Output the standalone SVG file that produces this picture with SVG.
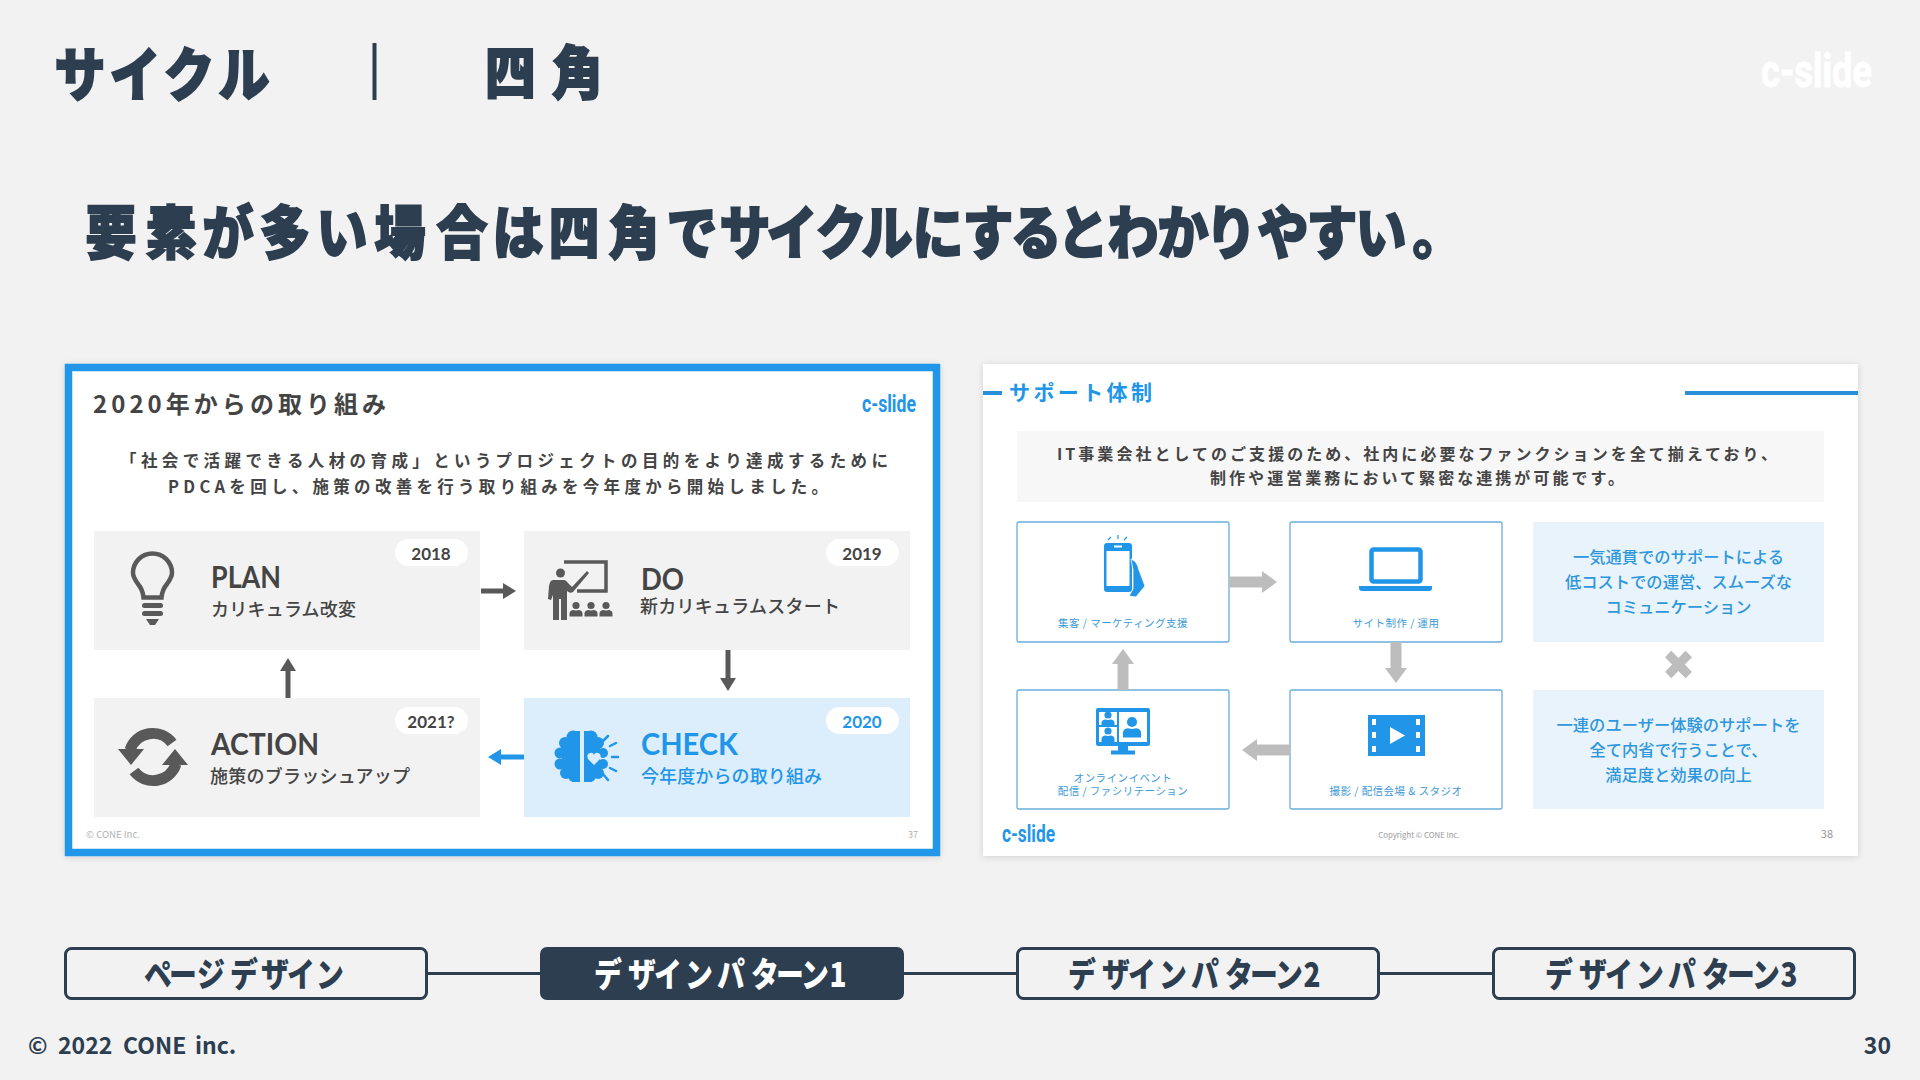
<svg xmlns="http://www.w3.org/2000/svg" xmlns:xlink="http://www.w3.org/1999/xlink" width="1920" height="1080" viewBox="0 0 1920 1080">
<style>
text{font-family:"Noto Sans CJK JP","Noto Sans",sans-serif;}
.hd{font-weight:900;fill:#2c3e50;stroke:#2c3e50;stroke-width:1.800;text-anchor:middle;}
.tab{font-size:34px;font-weight:900;fill:#2c3e50;text-anchor:middle;}
.tabbox{fill:#f2f2f2;stroke:#2c3e50;stroke-width:3;}
.foot{font-size:23px;font-weight:700;fill:#2c3e50;}
.lat{font-family:Lato,"Liberation Sans",sans-serif;font-weight:700;}
.logo{font-family:Roboto,"Liberation Sans",sans-serif;font-weight:700;}
.card{fill:#f2f2f2;}
.pill{fill:#fff;}
.yr{font-family:Lato,sans-serif;font-size:17px;font-weight:700;fill:#444;text-anchor:middle;}
.ttl{font-size:31px;fill:#444;}
.sub{font-size:18px;font-weight:500;fill:#444;}
.para{font-size:16.500px;font-weight:700;fill:#444;}
.ic{fill:#595959;}
.bl{fill:#2196e8;}
.wbox{fill:#fff;stroke:#6aaedb;stroke-width:1.300;}
.cap{font-size:10.500px;fill:#3d9ad8;text-anchor:middle;letter-spacing:.45px;}
.note{fill:#e8f3fb;}
.nt{font-size:16.300px;font-weight:500;fill:#2f97dc;text-anchor:middle;}
.p2{font-size:16px;font-weight:700;fill:#444;}
</style>
<defs>
<filter id="sh" x="-3%" y="-3%" width="106%" height="106%"><feDropShadow dx="0" dy="1" stdDeviation="3" flood-color="#000" flood-opacity="0.14"/></filter>
<marker id="hd1" markerUnits="userSpaceOnUse" markerWidth="14" markerHeight="16" refX="0" refY="8" orient="auto"><path d="M0 0L13 8L0 16Z" fill="#595959"/></marker>
<marker id="hd2" markerUnits="userSpaceOnUse" markerWidth="14" markerHeight="16" refX="0" refY="8" orient="auto"><path d="M0 0L13 8L0 16Z" fill="#2196e8"/></marker>
<marker id="hd3" markerUnits="userSpaceOnUse" markerWidth="16" markerHeight="24" refX="0" refY="12" orient="auto"><path d="M0 1L15 12L0 23Z" fill="#bdbdbd"/></marker>
<g id="usr"><circle cx="0" cy="-5" r="3.600"/><path d="M-6.500 6V3Q-6.500 0 -3 -.5L0 0L3 -.5Q6.500 0 6.500 3V6Z"/></g>
</defs>

<rect width="1920" height="1080" fill="#f2f2f2"/>

<g id="header">
<text class="hd" transform="scale(.88 1)" x="90.900 153.400 214.800 277.300" y="96" font-size="58">サイクル</text>
<rect x="372.500" y="43" width="4" height="57" fill="#2c3e50"/>
<text class="hd" transform="scale(.88 1)" x="580 656" y="94" font-size="58">四角</text>
<text class="logo" x="1761" y="87" font-size="46" fill="#fff" stroke="#fff" stroke-width=".8" textLength="111" lengthAdjust="spacingAndGlyphs">c-slide</text>
</g>
<text class="hd" transform="scale(.88 1)" x="126.100 194.300 259.100 323.900 388.600 454.500 525 588.600 652.300 720.500 786.400 846.600 900 955.700 1008 1065.900 1122.700 1177.300 1230.700 1287.500 1344.300 1398.900 1457.900 1513.600 1569.300 1634" y="254" font-size="58">要素が多い場合は四角でサイクルにするとわかりやすい。</text>

<g id="slide-37">
<rect x="68.500" y="367.500" width="868" height="485" fill="#fff" stroke="#2196e8" stroke-width="7.500" filter="url(#sh)"/>
<text x="93" y="413" font-size="24" font-weight="700" fill="#444" textLength="293">2020年からの取り組み</text>
<text class="logo" x="862" y="412" font-size="23" fill="#2196e8" textLength="54" lengthAdjust="spacingAndGlyphs">c-slide</text>
<text class="para" x="120" y="467" textLength="768">「社会で活躍できる人材の育成」というプロジェクトの目的をより達成するために</text>
<text class="para" x="168" y="493" textLength="660">PDCAを回し、施策の改善を行う取り組みを今年度から開始しました。</text>
<text x="86" y="838" font-size="9.600" fill="#b0b0b0">© CONE Inc.</text>
<text x="918" y="838" font-size="9" fill="#b0b0b0" text-anchor="end">37</text>
</g>

<g id="node-plan">
<rect class="card" x="94" y="531" width="386" height="119"/>
<rect class="pill" x="395" y="539" width="73" height="27" rx="13.500"/>
<text class="yr" x="431" y="560">2018</text>
<path d="M143.500 597.500Q143 590 138 584Q133 577 133 573A19.500 19.500 0 1 1 172 573Q172 577 167 584Q162 590 161.500 597.500Z" fill="none" stroke="#595959" stroke-width="4.500"/>
<rect class="ic" x="142" y="603" width="21" height="5" rx="2.500"/><rect class="ic" x="142" y="611" width="21" height="5" rx="2.500"/><path class="ic" d="M146 619H159L155 625H150Z"/>
<text class="ttl lat" x="211" y="588" textLength="70" lengthAdjust="spacingAndGlyphs">PLAN</text>
<text class="sub" x="211" y="616" textLength="145">カリキュラム改変</text>
</g>

<g id="node-do">
<rect class="card" x="524" y="531" width="386" height="119"/>
<rect class="pill" x="826" y="539" width="73" height="27" rx="13.500"/>
<text class="yr" x="862" y="560">2019</text>
<path d="M564 562H606V591H577" fill="none" stroke="#595959" stroke-width="3.500"/>
<circle class="ic" cx="560.500" cy="573" r="4.500"/>
<path class="ic" d="M553 580H564Q566 580 568 583L572 587L587 571L589 573L573 592Q570 594 567 591V620H561V599H559V620H553V595L551 600L548 599L549 586Q550 580 553 580Z"/>
<use xlink:href="#usr" x="576" y="610.500" class="ic"/><use xlink:href="#usr" x="591" y="610.500" class="ic"/><use xlink:href="#usr" x="606" y="610.500" class="ic"/>
<text class="ttl lat" x="641" y="590" textLength="43" lengthAdjust="spacingAndGlyphs">DO</text>
<text class="sub" x="640" y="613" textLength="200">新カリキュラムスタート</text>
</g>

<g id="node-action">
<rect class="card" x="94" y="698" width="386" height="119"/>
<rect class="pill" x="395" y="707" width="73" height="27" rx="13.500"/>
<text class="yr" x="431" y="728">2021?</text>
<g class="ic">
<path d="M130 750A24 24 0 0 1 172 743" fill="none" stroke="#595959" stroke-width="11"/>
<path d="M118 749H144L131 765Z"/>
<path d="M176 764A24 24 0 0 1 134 771" fill="none" stroke="#595959" stroke-width="11"/>
<path d="M188 765H162L175 749Z"/>
</g>
<text class="ttl lat" x="211" y="755" textLength="108" lengthAdjust="spacingAndGlyphs">ACTION</text>
<text class="sub" x="210" y="783" textLength="200">施策のブラッシュアップ</text>
</g>

<g id="node-check">
<rect x="524" y="698" width="386" height="119" fill="#dcedfb"/>
<rect class="pill" x="826" y="707" width="73" height="27" rx="13.500"/>
<text class="yr" x="862" y="728" style="fill:#2196e8">2020</text>
<g class="bl">
<path d="M580 731V782H572V731Z"/><circle cx="573" cy="737" r="6.500"/><circle cx="565" cy="743" r="6"/><circle cx="560" cy="753" r="5.500"/><circle cx="560" cy="764" r="5.500"/><circle cx="566" cy="773" r="6"/><circle cx="574" cy="776" r="6"/><rect x="562" y="740" width="14" height="34"/>
<path d="M584 731V782H592V731Z"/><circle cx="591" cy="737" r="6.500"/><circle cx="598" cy="743" r="6"/><circle cx="603" cy="753" r="5"/><circle cx="603" cy="764" r="5"/><circle cx="598" cy="773" r="6"/><circle cx="590" cy="776" r="6"/><rect x="588" y="740" width="12" height="34"/>
</g>
<path d="M594 765L588 759Q586 754 590 753Q593 752 594 755Q595 752 598 753Q602 754 600 759Z" fill="#dcedfb"/>
<path d="M608 736L603 741M610 746L616 743M612 757H618M610 768L616 771M603 774L608 780" stroke="#2196e8" stroke-width="2.500" stroke-linecap="round" fill="none"/>
<text class="ttl lat" x="641" y="755" textLength="97" lengthAdjust="spacingAndGlyphs" style="fill:#2196e8">CHECK</text>
<text class="sub" x="641" y="783" textLength="181" style="fill:#2196e8">今年度からの取り組み</text>
</g>

<g id="slide-38">
<rect x="983" y="364" width="875" height="492" fill="#fff" filter="url(#sh)"/>
<rect x="983" y="391" width="19" height="4" fill="#2b8fd8"/>
<rect x="1685" y="391" width="173" height="4" fill="#2b8fd8"/>
<text x="1009" y="400" font-size="21" font-weight="700" fill="#2196e8" textLength="143">サポート体制</text>
<rect x="1017" y="431" width="807" height="71" fill="#f7f7f7"/>
<text class="p2" x="1057" y="460" textLength="720">IT事業会社としてのご支援のため、社内に必要なファンクションを全て揃えており、</text>
<text class="p2" x="1210" y="484" textLength="414">制作や運営業務において緊密な連携が可能です。</text>
<text class="logo" x="1002" y="842" font-size="23" fill="#2196e8" textLength="53" lengthAdjust="spacingAndGlyphs">c-slide</text>
<text x="1419" y="838" font-size="7.800" fill="#999" text-anchor="middle">Copyright © CONE Inc.</text>
<text x="1833" y="838" font-size="11" fill="#999" text-anchor="end">38</text>
</g>

<g id="node-marketing">
<rect class="wbox" x="1017" y="522" width="212" height="120" rx="2"/>
<rect class="bl" x="1104" y="543" width="28" height="49" rx="3"/>
<rect x="1106.500" y="551" width="23" height="35" fill="#fff"/>
<rect x="1114" y="545.500" width="8" height="2" fill="#fff"/>
<path class="bl" d="M1131 559Q1137 561 1139 570L1145 586L1136 597L1129 596L1133 589V570Z" stroke="#fff" stroke-width=".8"/>
<path d="M1108 540L1111 537M1118 539V535M1124 540L1127 537" stroke="#2196e8" stroke-width="1.200" fill="none"/>
<text class="cap" x="1123" y="627">集客 / マーケティング支援</text>
</g>

<g id="node-site">
<rect class="wbox" x="1290" y="522" width="212" height="120" rx="2"/>
<rect x="1371.500" y="549.500" width="49" height="32" rx="2" fill="#fff" stroke="#2196e8" stroke-width="4.500"/>
<path class="bl" d="M1359 586H1432V588Q1432 591 1429 591H1362Q1359 591 1359 588Z"/>
<text class="cap" x="1396" y="627">サイト制作 / 運用</text>
</g>

<g id="node-film">
<rect class="wbox" x="1290" y="690" width="212" height="119" rx="2"/>
<rect class="bl" x="1368" y="715" width="57" height="41"/>
<g fill="#fff"><rect x="1372" y="719" width="4" height="6"/><rect x="1372" y="732" width="4" height="6"/><rect x="1372" y="746" width="4" height="6"/><rect x="1416" y="719" width="4" height="6"/><rect x="1416" y="732" width="4" height="6"/><rect x="1416" y="746" width="4" height="6"/><path d="M1390 727L1405 735.500L1390 744Z"/></g>
<text class="cap" x="1396" y="795">撮影 / 配信会場 &amp; スタジオ</text>
</g>

<g id="node-online">
<rect class="wbox" x="1017" y="690" width="212" height="119" rx="2"/>
<rect class="bl" x="1096" y="708" width="54" height="38" rx="2"/>
<g fill="#fff"><rect x="1099" y="712" width="18" height="13"/><rect x="1099" y="727" width="18" height="15"/><rect x="1119" y="712" width="28" height="30"/></g>
<use xlink:href="#usr" x="1108" y="720" class="bl"/><use xlink:href="#usr" x="1108" y="736" class="bl"/><use xlink:href="#usr" transform="translate(1132 729) scale(1.400)" class="bl"/>
<rect class="bl" x="1118" y="746" width="10" height="5"/><rect class="bl" x="1111" y="750.500" width="24" height="4"/>
<text class="cap" x="1123" y="782">オンラインイベント</text>
<text class="cap" x="1123" y="795">配信 / ファシリテーション</text>
</g>

<g id="note-1">
<rect class="note" x="1533" y="522" width="291" height="120"/>
<text class="nt" x="1678.500" y="563">一気通貫でのサポートによる</text>
<text class="nt" x="1678.500" y="588">低コストでの運営、スムーズな</text>
<text class="nt" x="1678.500" y="613">コミュニケーション</text>
</g>
<text id="times" x="1678.500" y="684" font-size="54" font-weight="900" fill="#bdbdbd" stroke="#bdbdbd" stroke-width="2" text-anchor="middle" style="font-family:'Noto Sans',sans-serif">×</text>
<g id="note-2">
<rect class="note" x="1533" y="690" width="291" height="119"/>
<text class="nt" x="1678.500" y="731">一連のユーザー体験のサポートを</text>
<text class="nt" x="1678.500" y="756">全て内省で行うことで、</text>
<text class="nt" x="1678.500" y="781">満足度と効果の向上</text>
</g>

<g id="connectors" fill="none">
<g stroke="#595959" stroke-width="5">
<line x1="481" y1="591" x2="503" y2="591" marker-end="url(#hd1)"/>
<line x1="288" y1="698" x2="288" y2="671" marker-end="url(#hd1)"/>
<line x1="728" y1="650" x2="728" y2="678" marker-end="url(#hd1)"/>
</g>
<line x1="524" y1="757" x2="501" y2="757" stroke="#2196e8" stroke-width="5" marker-end="url(#hd2)"/>
<g stroke="#bdbdbd" stroke-width="11">
<line x1="1229" y1="582" x2="1262" y2="582" marker-end="url(#hd3)"/>
<line x1="1396" y1="642" x2="1396" y2="668" marker-end="url(#hd3)"/>
<line x1="1290" y1="750" x2="1257" y2="750" marker-end="url(#hd3)"/>
<line x1="1123" y1="690" x2="1123" y2="664" marker-end="url(#hd3)"/>
</g>
<g stroke="#2c3e50" stroke-width="3">
<line x1="427" y1="973.500" x2="540" y2="973.500"/>
<line x1="904" y1="973.500" x2="1016" y2="973.500"/>
<line x1="1380" y1="973.500" x2="1493" y2="973.500"/>
</g>
</g>

<g id="tab-page"><rect class="tabbox" x="65.500" y="948.500" width="361" height="50" rx="6"/><text class="tab" transform="scale(.82 1)" x="192.700 223.200 257.300 297.600 335.400 367.100 402.400" y="987">ページデザイン</text></g>
<g id="tab-1"><rect x="540" y="947" width="364" height="53" rx="7" fill="#2c3e50"/><text class="tab" transform="scale(.82 1)" x="741.500 782.900 814.600 852.400 891.500 932.900 963.400 993.900 1022" y="987" style="fill:#fff">デザインパターン1</text></g>
<g id="tab-2"><rect class="tabbox" x="1017.500" y="948.500" width="361" height="50" rx="6"/><text class="tab" transform="scale(.82 1)" x="1319.500 1361 1392.700 1430.500 1469.500 1511 1541.500 1572 1600" y="987">デザインパターン2</text></g>
<g id="tab-3"><rect class="tabbox" x="1493.500" y="948.500" width="361" height="50" rx="6"/><text class="tab" transform="scale(.82 1)" x="1901.200 1942.700 1974.400 2012.200 2051.200 2092.700 2123.200 2153.700 2181.700" y="987">デザインパターン3</text></g>

<text id="copyright" class="foot" y="1054"><tspan x="28">©</tspan><tspan x="58">2022</tspan><tspan x="123">CONE</tspan><tspan x="195">inc.</tspan></text>
<text class="foot" x="1891" y="1054" text-anchor="end">30</text>
</svg>
